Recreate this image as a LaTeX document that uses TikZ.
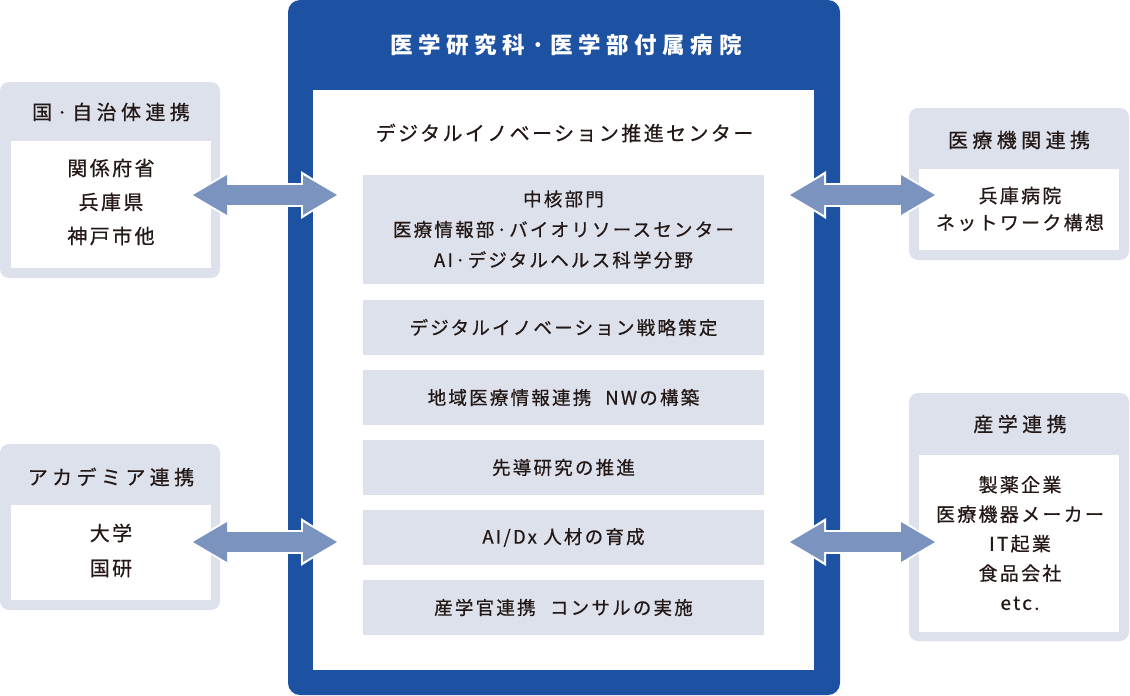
\documentclass[tikz,border=0pt]{standalone}
\usepackage{fontspec}
\newfontfamily\jp[LetterSpace=12,FakeBold=0.6]{Noto Sans CJK JP}
\newfontfamily\jpwide[LetterSpace=22,FakeBold=0.6]{Noto Sans CJK JP}
\newfontfamily\jptitle[LetterSpace=25]{Noto Sans CJK JP}
\usetikzlibrary{arrows.meta}
\definecolor{FrameBlue}{HTML}{1D52A3}
\definecolor{PaleGray}{HTML}{DCE1EC}
\definecolor{ArrowBlue}{HTML}{7A93BF}
\definecolor{InkBlack}{HTML}{231815}

\begin{document}
\begin{tikzpicture}[
    x=1pt, y=-1pt,
    every node/.style={
        font=\jp,
        text=InkBlack,
        align=center,
        inner sep=0pt
    },
    sidebox/.style={
        fill=PaleGray,
        rounded corners=9pt,
        minimum width=220pt
    },
    sideinner/.style={
        fill=white,
        minimum width=200pt
    },
    sidetitle/.style={
        font=\jpwide\fontsize{20}{24}\selectfont
    },
    stripbox/.style={
        fill=PaleGray,
        minimum width=401pt,
        minimum height=55pt,
        font=\jp\fontsize{18.5}{30.5}\selectfont
    },
    bigarrow/.style={
        draw=ArrowBlue,
        line width=20pt,
        {Triangle[length=34pt,width=40pt,line width=0pt]}-{Triangle[length=34pt,width=40pt,line width=0pt]},
        preaction={
            draw=white,
            line width=24pt,
            shorten <=-2pt, shorten >=-2pt,
            arrows={Triangle[length=38pt,width=48pt,line width=0pt]-Triangle[length=38pt,width=48pt,line width=0pt]}
        }
    }
]
\useasboundingbox (0,0) rectangle (1130,696);

% centre
\node[fill=FrameBlue, rounded corners=12pt, minimum width=552pt, minimum height=695pt] (frame) at (564,347.5) {};
\node[fill=white, minimum width=501pt, minimum height=580pt] (inner) at (563.5,380) {};
\node[text=white, font=\jptitle\bfseries\fontsize{22.5}{30}\selectfont] (head) at (566,45) {医学研究科·医学部付属病院};
\node[font=\jp\fontsize{20}{24}\selectfont] (center) at (564.5,133) {デジタルイノベーション推進センター};

\node[stripbox, minimum height=109pt] (core) at (563.5,229.5) {中核部門\\医療情報部·バイオリソースセンター\\AI·デジタルヘルス科学分野};
\node[stripbox] (strategy) at (563.5,327.5) {デジタルイノベーション戦略策定};
\node[stripbox] (network) at (563.5,397.5) {地域医療情報連携\hspace{14pt}NWの構築};
\node[stripbox] (research) at (563.5,467.5) {先導研究の推進};
\node[stripbox] (talent) at (563.5,537.5) {AI/Dx 人材の育成};
\node[stripbox] (consult) at (563.5,607.5) {産学官連携\hspace{8pt} コンサルの実施};

% left
\node[sidebox, minimum height=196pt] (gov) at (110,180) {};
\node[sidetitle] (govtitle) at (111,112) {国·自治体連携};
\node[sideinner, minimum height=127pt] (govbox) at (111,204.5) {};
\node[font=\jp\fontsize{20}{34}\selectfont] (govlist) at (111,202) {関係府省\\兵庫県\\神戸市他};

\node[sidebox, minimum height=166pt] (acad) at (110,527) {};
\node[sidetitle] (acadtitle) at (111,477) {アカデミア連携};
\node[sideinner, minimum height=95pt] (acadbox) at (111,552.5) {};
\node[font=\jp\fontsize{20}{35}\selectfont] (acadlist) at (111,550.5) {大学\\国研};

% right
\node[sidebox, minimum height=152pt] (med) at (1019,184) {};
\node[sidetitle] (medtitle) at (1019,140) {医療機関連携};
\node[sideinner, minimum height=81pt] (medbox) at (1019,209.5) {};
\node[font=\jp\fontsize{19}{27}\selectfont] (medlist) at (1020,209) {兵庫病院\\ネットワーク構想};

\node[sidebox, minimum height=248pt] (ind) at (1019,517) {};
\node[sidetitle] (indtitle) at (1020,424) {産学連携};
\node[sideinner, minimum height=177pt] (indbox) at (1019,543.5) {};
\node[font=\jp\fontsize{19}{29.5}\selectfont] (indlist) at (1020,543) {製薬企業\\医療機器メーカー\\IT起業\\食品会社\\etc.};

% arrows
\coordinate (govend) at (193,195);
\coordinate (govtip) at (337,195);
\coordinate (acadend) at (193,542);
\coordinate (acadtip) at (337,542);
\coordinate (medend) at (790,195);
\coordinate (medtip) at (935,195);
\coordinate (indend) at (790,542);
\coordinate (indtip) at (935,542);

\draw[bigarrow] (govend) -- (govtip);
\draw[bigarrow] (acadend) -- (acadtip);
\draw[bigarrow] (medend) -- (medtip);
\draw[bigarrow] (indend) -- (indtip);

\end{tikzpicture}
\end{document}
